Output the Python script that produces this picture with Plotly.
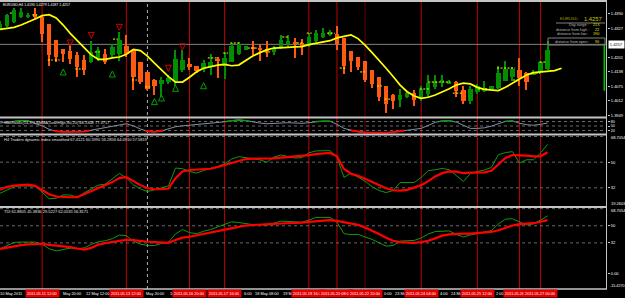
import plotly.graph_objects as go

# ---------------- data ----------------
opens = [1.4327, 1.4337, 1.4356, 1.4378, 1.4382, 1.4392, 1.4380, 1.4346, 1.4279, 1.4240,
         1.4230, 1.4215, 1.4192, 1.4182, 1.4196, 1.4218, 1.4211, 1.4218, 1.4250, 1.4233,
         1.4182, 1.4138, 1.4105, 1.4088, 1.4095, 1.4102, 1.4148, 1.4175, 1.4167, 1.4153,
         1.4160, 1.4196, 1.4167, 1.4182, 1.4218, 1.4235, 1.4247, 1.4244, 1.4240, 1.4225,
         1.4247, 1.4262, 1.4269, 1.4264, 1.4254, 1.4273, 1.4291, 1.4298, 1.4305, 1.4288,
         1.4230, 1.4206, 1.4185, 1.4146, 1.4117, 1.4076, 1.4037, 1.4018, 1.4030, 1.4047,
         1.4022, 1.4044, 1.4073, 1.4095, 1.4088, 1.4095, 1.4061, 1.4015, 1.4051, 1.4056,
         1.4066, 1.4070, 1.4102, 1.4117, 1.4146, 1.4134, 1.4128, 1.4138, 1.4153]
highs = [1.4360, 1.4392, 1.4418, 1.4418, 1.4395, 1.4418, 1.4385, 1.4346, 1.4279, 1.4240,
         1.4262, 1.4225, 1.4211, 1.4276, 1.4247, 1.4240, 1.4262, 1.4312, 1.4298, 1.4235,
         1.4182, 1.4138, 1.4108, 1.4117, 1.4124, 1.4233, 1.4233, 1.4201, 1.4167, 1.4192,
         1.4218, 1.4206, 1.4225, 1.4264, 1.4269, 1.4254, 1.4276, 1.4259, 1.4276, 1.4250,
         1.4302, 1.4298, 1.4288, 1.4283, 1.4308, 1.4320, 1.4331, 1.4322, 1.4341, 1.4288,
         1.4230, 1.4206, 1.4185, 1.4146, 1.4117, 1.4076, 1.4044, 1.4066, 1.4051, 1.4059,
         1.4080, 1.4124, 1.4124, 1.4124, 1.4105, 1.4102, 1.4076, 1.4080, 1.4088, 1.4102,
         1.4080, 1.4167, 1.4186, 1.4160, 1.4201, 1.4138, 1.4146, 1.4189, 1.4273]
lows = [1.4322, 1.4334, 1.4354, 1.4375, 1.4375, 1.4370, 1.4269, 1.4167, 1.4182, 1.4182,
        1.4175, 1.4117, 1.4124, 1.4177, 1.4189, 1.4175, 1.4204, 1.4189, 1.4204, 1.4059,
        1.4088, 1.4059, 1.4037, 1.4030, 1.4088, 1.4080, 1.4138, 1.4146, 1.4134, 1.4138,
        1.4124, 1.4114, 1.4109, 1.4182, 1.4215, 1.4233, 1.4211, 1.4186, 1.4204, 1.4211,
        1.4240, 1.4247, 1.4201, 1.4211, 1.4247, 1.4269, 1.4288, 1.4296, 1.4235, 1.4131,
        1.4138, 1.4146, 1.4095, 1.4070, 1.4012, 1.3960, 1.3979, 1.3986, 1.4027, 1.3989,
        1.4015, 1.4030, 1.4066, 1.4073, 1.4085, 1.4030, 1.4001, 1.4001, 1.4044, 1.4051,
        1.4061, 1.4066, 1.4102, 1.4102, 1.4080, 1.4059, 1.4124, 1.4131, 1.4146]
closes = [1.4349, 1.4385, 1.4407, 1.4399, 1.4389, 1.4378, 1.4305, 1.4211, 1.4204, 1.4218,
          1.4196, 1.4160, 1.4146, 1.4225, 1.4233, 1.4182, 1.4247, 1.4279, 1.4218, 1.4119,
          1.4095, 1.4066, 1.4076, 1.4105, 1.4114, 1.4196, 1.4192, 1.4160, 1.4143, 1.4177,
          1.4182, 1.4189, 1.4201, 1.4254, 1.4262, 1.4250, 1.4238, 1.4235, 1.4230, 1.4244,
          1.4280, 1.4273, 1.4262, 1.4247, 1.4291, 1.4308, 1.4308, 1.4311, 1.4262, 1.4167,
          1.4186, 1.4160, 1.4106, 1.4088, 1.4032, 1.4001, 1.4012, 1.4041, 1.4047, 1.4018,
          1.4066, 1.4090, 1.4102, 1.4105, 1.4102, 1.4056, 1.4015, 1.4066, 1.4080, 1.4070,
          1.4076, 1.4134, 1.4153, 1.4153, 1.4114, 1.4095, 1.4138, 1.4182, 1.4235]
ma_values = [1.4322, 1.4325, 1.4331, 1.4341, 1.4353, 1.4367, 1.4382, 1.4386, 1.4372, 1.4341,
             1.4305, 1.4273, 1.4243, 1.4211, 1.4192, 1.4192, 1.4198, 1.4202, 1.4214, 1.4235,
             1.4230, 1.4206, 1.4175, 1.4146, 1.4117, 1.4093, 1.4093, 1.4114, 1.4138, 1.4153,
             1.4160, 1.4167, 1.4170, 1.4164, 1.4167, 1.4186, 1.4206, 1.4221, 1.4233, 1.4241,
             1.4244, 1.4244, 1.4246, 1.4247, 1.4256, 1.4262, 1.4266, 1.4273, 1.4285, 1.4293,
             1.4298, 1.4282, 1.4254, 1.4221, 1.4189, 1.4153, 1.4117, 1.4080, 1.4051, 1.4032,
             1.4022, 1.4027, 1.4037, 1.4050, 1.4064, 1.4080, 1.4088, 1.4085, 1.4070, 1.4061,
             1.4057, 1.4056, 1.4070, 1.4088, 1.4105, 1.4124, 1.4134, 1.4137, 1.4137, 1.4143,
             1.4153]
# short yellow dotted level marks (start bar, end bar, price)
dash_start_bars = [1.4, 4.6, 6.8, 7.8, 10.7, 13.5, 16.1, 18.8, 20.7, 29.6, 31.8, 32.8, 35.3,
                   37.7, 40.2, 42.3, 43.7, 46.6, 48.4, 51.3, 53.7, 54.8, 59.8, 61.0, 64.5,
                   68.1, 70.8, 73.1, 75.8, 76.9]
dash_end_bars = [1.9, 5.3, 7.5, 8.5, 11.8, 14.2, 16.8, 19.5, 21.4, 30.9, 32.5, 34.2, 36.6,
                 38.7, 41.0, 43.2, 44.4, 47.7, 49.4, 52.0, 54.4, 55.8, 61.3, 64.1, 65.8,
                 69.5, 73.4, 74.1, 76.9, 77.9]
dash_prices = [1.4393, 1.4385, 1.4189, 1.4189, 1.4150, 1.4224, 1.4280, 1.4102, 1.4072, 1.4198,
               1.4219, 1.4263, 1.4241, 1.4224, 1.4289, 1.4263, 1.4306, 1.4306, 1.4154, 1.4137,
               1.4076, 1.4019, 1.4063, 1.4093, 1.4045, 1.4063, 1.4154, 1.4102, 1.4132, 1.4180]
stoch_main = [70, 74, 80, 86, 84, 70, 51, 28, 15, 11,
              11, 13, 13, 22, 30, 38, 49, 59, 65, 51,
              30, 15, 11, 17, 30, 45, 51, 55, 61, 65,
              70, 72, 78, 86, 90, 86, 76, 70, 65, 68,
              70, 72, 70, 68, 72, 80, 83, 82, 61, 34,
              20, 11, 7, 5, 3, 5, 9, 17, 22, 28,
              34, 55, 74, 84, 85, 76, 57, 34, 34, 38,
              49, 63, 81, 84, 68, 59, 55, 61, 70]
dz_green = [28.2, 30.6, 32.7, 33.4, 33.4, 33.2, 29.0, 24.4, 24.7, 27.0,
            27.0, 25.4, 28.5, 31.5, 33.9, 34.6, 38.3, 42.1, 39.0, 34.1,
            31.3, 29.4, 30.6, 32.0, 33.4, 45.9, 45.4, 43.5, 42.3, 44.2,
            45.4, 47.0, 48.9, 52.2, 53.9, 53.2, 52.0, 51.7, 49.9, 53.6,
            55.0, 54.1, 52.9, 53.2, 56.5, 57.9, 58.1, 58.1, 53.6, 39.3,
            42.3, 39.3, 36.7, 32.9, 30.1, 28.7, 30.1, 35.7, 35.7, 35.7,
            39.3, 44.0, 44.7, 45.6, 44.7, 40.4, 36.5, 41.9, 43.5, 44.5,
            46.3, 55.3, 56.7, 57.4, 49.4, 51.7, 51.7, 56.5, 62.5]
dz_red = [30.6, 32.7, 33.6, 34.1, 34.3, 33.4, 30.6, 27.5, 25.9, 25.4,
          25.4, 25.4, 27.5, 30.1, 32.2, 34.1, 36.0, 38.8, 39.5, 36.7,
          33.9, 31.7, 31.0, 31.0, 31.5, 38.8, 43.5, 44.5, 44.7, 45.2,
          45.4, 46.6, 48.0, 49.9, 51.3, 52.2, 52.5, 52.5, 52.5, 52.7,
          53.2, 53.6, 54.1, 54.3, 55.0, 55.7, 56.2, 56.5, 54.1, 45.2,
          41.9, 40.4, 38.3, 36.0, 34.1, 31.7, 30.3, 30.1, 30.6, 32.2,
          33.9, 36.7, 40.0, 42.3, 43.5, 43.3, 42.3, 42.6, 42.8, 42.8,
          44.0, 48.7, 52.9, 55.0, 55.0, 54.6, 54.1, 54.1, 56.9]
tdi_green = [25.8, 29.3, 32.5, 32.9, 32.9, 32.9, 30.7, 25.8, 23.6, 24.7,
             26.5, 25.8, 26.8, 30.4, 33.2, 34.3, 36.4, 40.3, 39.6, 33.9,
             30.7, 29.3, 29.3, 31.4, 32.9, 41.4, 46.0, 42.8, 41.7, 44.2,
             46.0, 48.8, 51.7, 54.2, 53.4, 52.0, 51.3, 51.3, 50.6, 52.7,
             54.9, 54.5, 53.8, 53.8, 55.9, 58.8, 58.8, 58.8, 53.8, 41.7,
             40.7, 41.0, 38.2, 35.7, 32.1, 28.6, 29.3, 33.9, 34.3, 34.6,
             37.1, 41.4, 43.9, 44.6, 44.6, 41.0, 38.2, 40.3, 41.7, 43.5,
             44.9, 52.0, 57.0, 57.4, 54.5, 50.9, 52.0, 55.9, 60.2]
tdi_red = [25.8, 27.2, 28.6, 29.7, 30.4, 30.7, 31.1, 30.0, 29.3, 28.9,
           27.5, 26.1, 25.0, 26.8, 30.0, 31.8, 33.2, 34.6, 35.3, 35.0,
           33.9, 33.2, 32.9, 32.5, 32.1, 35.0, 37.5, 38.5, 39.9, 41.0,
           42.4, 43.9, 45.3, 46.7, 48.8, 50.3, 50.9, 51.3, 51.7, 52.0,
           52.4, 52.6, 53.1, 53.4, 54.2, 54.9, 55.2, 55.9, 55.2, 53.8,
           52.4, 50.9, 48.1, 44.9, 41.4, 37.5, 34.3, 32.9, 32.5, 32.1,
           32.9, 34.3, 36.8, 39.6, 41.0, 41.7, 41.7, 41.7, 42.1, 42.8,
           43.5, 45.3, 48.1, 50.3, 51.7, 52.4, 52.7, 54.2, 55.9]
sell_arrow_bars = [10, 13, 17, 24, 26]
sell_arrow_prices = [1.4250, 1.4283, 1.4318, 1.4140, 1.4233]
buy_arrow_bars = [9, 16, 22, 23, 25, 29]
buy_arrow_prices = [1.4150, 1.4141, 1.4021, 1.4037, 1.4079, 1.4090]
event_bars = [6, 18, 27, 32, 44, 48, 52, 60, 68, 74, 77]
event_labels = ["2011.05.11 12:00", "2011.05.13 12:00", "2011.05.16 20:00", "2011.05.17 16:00",
                "2011.05.19 16:00", "2011.05.20 08:00", "2011.05.22 20:00", "2011.05.24 04:00",
                "2011.05.25 12:00", "2011.05.26 12:00", "2011.05.27 00:00"]
event_colors = ["#c00000"] * 6 + ["#6a0000"] + ["#c00000"] * 4
separator_bar = 21
# visible parts of the time-scale labels (the rest is hidden under the red line labels)
time_label_bars = [0, 8, 12, 20, 24, 32, 36, 40, 52, 56, 60, 64, 68]
time_label_texts = ["10 May 2011", "May 20:00", "12 May 12:00", "May 20:00", "16", "6:00",
                    "18 May 08:00", "19 Ma", "0:00", "23 Ma", "4:00", "24 Ma", "2:00"]
time_label_shift = [-2, 5, 0, 4, 0, 17, 0, 0, 17, 0, 17, 0, 17]
price_ticks = [1.4390, 1.4327, 1.4201, 1.4138, 1.4075, 1.4012, 1.3949]
current_price = 1.4257
day_bar_low = 1.4055
stoch_levels = [80, 50, 20]
tdi_levels = [68, 50, 32]
dz_ticks = [50, 32]
dz_max, dz_min = 68.7054, 19.2603
tdi_ticks = [50, 32, 0]
tdi_ticktext = ["50", "32", "0.00"]
tdi_max, tdi_min = 68.7054, -15.4270
header_text = "EURUSD,H4 1.4190 1.4279 1.4187 1.4257"
stoch_text = "Stochastic(14,3,3,SMMA,Low/High,80,20) 68.5308 77.3717"
dz_text = "H4 Traders dynamic index smoothed 67.4121 60.5990 53.2856 64.0910 57.5819"
tdi_text = "TDI 61.8805 45.3836 29.5227 62.0535 56.8171"
info_rows = ["Day range :", "distance from high :", "distance from low :", "distance from open :"]
info_vals = ["213", "22", "190", "90"]

# ---------------- layout helpers ----------------
W, H = 625, 298
PLOT_R = 607
BAR_PX = 7.02
FONT = "Liberation Sans, Arial, sans-serif"
GREEN = "#008f00"
ORANGE = "#ff5a12"
AX_FS = 4.0
LBL_FS = 3.9


def px(x):
    return x / W


def py(y):
    return 1 - y / H


def clip_runs(xs, ys, level, above):
    def inside(v):
        return v >= level if above else v <= level
    rx, ry = [], []
    prev_in = False
    for i in range(len(ys)):
        cur_in = inside(ys[i])
        if i > 0 and cur_in != prev_in:
            x0, y0, x1, y1 = xs[i - 1], ys[i - 1], xs[i], ys[i]
            t = (level - y0) / (y1 - y0)
            rx.append(x0 + t * (x1 - x0))
            ry.append(level)
            if not cur_in:
                rx.append(None)
                ry.append(None)
        if cur_in:
            rx.append(xs[i])
            ry.append(ys[i])
        prev_in = cur_in
    return rx, ry


fig = go.Figure()
bars = list(range(len(opens)))
cols = [GREEN if c >= o else ORANGE for o, c in zip(opens, closes)]

# yellow dotted marks (behind candles)
dx, dy = [], []
for a, b, p in zip(dash_start_bars, dash_end_bars, dash_prices):
    dx += [a, b, None]
    dy += [p, p, None]
fig.add_trace(go.Scatter(x=dx, y=dy, mode="lines", yaxis="y", connectgaps=False,
                         line=dict(color="#ffff00", width=1, dash="2px,1.5px"), hoverinfo="skip"))
# wicks
fig.add_trace(go.Bar(x=bars, base=lows, y=[h - l for h, l in zip(highs, lows)], width=0.16,
                     marker=dict(color=cols, line=dict(width=0)), yaxis="y", hoverinfo="skip"))
# bodies
fig.add_trace(go.Bar(x=bars, base=[min(o, c) for o, c in zip(opens, closes)],
                     y=[max(abs(c - o), 0.00025) for o, c in zip(opens, closes)], width=0.62,
                     marker=dict(color=cols, line=dict(width=0)), yaxis="y", hoverinfo="skip"))
# moving average
fig.add_trace(go.Scatter(x=list(range(len(ma_values))), y=ma_values, mode="lines",
                         line=dict(color="#ffff00", width=1.7), yaxis="y", hoverinfo="skip"))
# signal arrows
fig.add_trace(go.Scatter(x=sell_arrow_bars, y=sell_arrow_prices, mode="markers", yaxis="y",
                         marker=dict(symbol="arrow-down-open", size=6, color="#d00000",
                                     line=dict(width=1, color="#d00000")), hoverinfo="skip"))
fig.add_trace(go.Scatter(x=buy_arrow_bars, y=buy_arrow_prices, mode="markers", yaxis="y",
                         marker=dict(symbol="arrow-up-open", size=6, color="#00a000",
                                     line=dict(width=1, color="#00a000")), hoverinfo="skip"))

# stochastic
fig.add_trace(go.Scatter(x=bars, y=stoch_main, mode="lines", yaxis="y2",
                         line=dict(color="#8090a4", width=1), hoverinfo="skip"))
gx, gy = clip_runs(bars, stoch_main, 80, True)
fig.add_trace(go.Scatter(x=gx, y=gy, mode="lines", yaxis="y2", connectgaps=False,
                         line=dict(color="#00a000", width=1.3), hoverinfo="skip"))
rx, ry = clip_runs(bars, stoch_main, 20, False)
fig.add_trace(go.Scatter(x=rx, y=ry, mode="lines", yaxis="y2", connectgaps=False,
                         line=dict(color="#ff0000", width=1.8), hoverinfo="skip"))

# dynamic zone
fig.add_trace(go.Scatter(x=bars, y=dz_green, mode="lines", yaxis="y3",
                         line=dict(color="#109a10", width=1), hoverinfo="skip"))
fig.add_trace(go.Scatter(x=bars, y=dz_red, mode="lines", yaxis="y3",
                         line=dict(color="#ff0000", width=2.2), hoverinfo="skip"))
# TDI
fig.add_trace(go.Scatter(x=bars, y=tdi_green, mode="lines", yaxis="y4",
                         line=dict(color="#109a10", width=1), hoverinfo="skip"))
fig.add_trace(go.Scatter(x=bars, y=tdi_red, mode="lines", yaxis="y4",
                         line=dict(color="#ff0000", width=2.2), hoverinfo="skip"))

shapes = []
for b, c in zip(event_bars, event_colors):
    shapes.append(dict(type="line", xref="x", yref="paper", x0=b, x1=b, y0=py(289), y1=1,
                       line=dict(color=c, width=1), layer="below"))
shapes.append(dict(type="line", xref="x", yref="paper", x0=separator_bar, x1=separator_bar,
                   y0=py(289), y1=1, line=dict(color="#b0b0b0", width=1, dash="dot"), layer="below"))
shapes.append(dict(type="line", xref="paper", yref="y", x0=0, x1=px(PLOT_R), y0=current_price,
                   y1=current_price, line=dict(color="#808080", width=1), layer="below"))
for lv in stoch_levels:
    shapes.append(dict(type="line", xref="paper", yref="y2", x0=0, x1=px(PLOT_R), y0=lv, y1=lv,
                       line=dict(color="#6a6a6a", width=1, dash="dot"), layer="below"))
for lv in tdi_levels:
    for ax in ("y3", "y4"):
        shapes.append(dict(type="line", xref="paper", yref=ax, x0=0, x1=px(PLOT_R), y0=lv, y1=lv,
                           line=dict(color="#6a6a6a", width=1, dash="dot"), layer="below"))
for yy, wd in [(1, 2), (117.5, 2), (134.5, 2), (207, 2), (289, 1.5)]:
    shapes.append(dict(type="line", xref="paper", yref="paper", x0=0, x1=px(PLOT_R), y0=py(yy),
                       y1=py(yy), line=dict(color="#c4c4c4", width=wd), layer="above"))
shapes.append(dict(type="line", xref="paper", yref="paper", x0=px(606.5), x1=px(606.5), y0=py(289),
                   y1=1, line=dict(color="#c4c4c4", width=1), layer="above"))
shapes.append(dict(type="rect", xref="paper", yref="y", x0=px(603.5), x1=px(605.2), y0=day_bar_low,
                   y1=current_price, fillcolor="#00c000", line=dict(width=0), layer="above"))
shapes.append(dict(type="line", xref="paper", yref="paper", x0=px(556), x1=px(605), y0=py(23),
                   y1=py(23), line=dict(color="#808080", width=1)))
shapes.append(dict(type="rect", xref="paper", yref="paper", x0=px(548), x1=px(605), y0=py(45),
                   y1=py(38), line=dict(color="#808080", width=1)))

ann = []


def text(x, y, s, color="#ffffff", size=4.0, xanchor="left", **kw):
    d = dict(x=px(x), y=py(y), xref="paper", yref="paper", text=s, showarrow=False,
             xanchor=xanchor, yanchor="middle", font=dict(family=FONT, size=size, color=color))
    d.update(kw)
    ann.append(d)


text(1, 4.5, header_text, size=3.5)
text(2, 122.3, stoch_text, color="#e0e0e0", size=4.0)
text(2, 139.5, dz_text, color="#e0e0e0", size=4.0)
text(2, 211.5, tdi_text, color="#e0e0e0", size=4.0)

# info panel
text(558, 18.5, "EURUSD", color="#9c9c00", size=4.2)
text(604, 18.5, f"{current_price:.4f}", color="#c8c800", size=5.8, xanchor="right")
for i, (lab, val) in enumerate(zip(info_rows, info_vals)):
    yy = [25.5, 30, 34.5, 41.5][i]
    text(591, yy, lab, color="#b8b8b8", size=3.8, xanchor="right")
    text(601, yy, val, color="#e6e600", size=3.8, xanchor="right")

# right-axis edge labels of the indicator windows
text(609, 137.5, f"{dz_max:.4f}", size=AX_FS)
text(609, 203.5, f"{dz_min:.4f}", size=AX_FS)
text(609, 210.8, f"{tdi_max:.4f}", size=AX_FS)
text(607.5, 286.3, f"{tdi_min:.4f}", size=3.7)

# time axis labels (visible fragments), then the red vertical-line labels on top
for b, s, sh in zip(time_label_bars, time_label_texts, time_label_shift):
    ann.append(dict(x=b, y=py(293.3), xref="x", yref="paper", text=s, showarrow=False,
                    xanchor="left", yanchor="middle", xshift=sh,
                    font=dict(family=FONT, size=LBL_FS, color="#ffffff")))
half_box = 16.5  # px, half width of a red time label
for k, (b, s) in enumerate(zip(event_bars, event_labels)):
    nxt = event_bars[k + 1] if k + 1 < len(event_bars) else None
    if nxt is not None and (nxt - b) * BAR_PX < 2 * half_box - 8:
        # label mostly covered by the next one: only its date part shows
        ann.append(dict(x=b, y=py(293.3), xref="x", yref="paper", text=s.split(" ")[0],
                        showarrow=False, xanchor="left", yanchor="middle", xshift=-half_box,
                        bgcolor="#e00000", borderpad=1,
                        font=dict(family=FONT, size=LBL_FS, color="#ffffff")))
    else:
        ann.append(dict(x=b, y=py(293.3), xref="x", yref="paper", text=s, showarrow=False,
                        xanchor="center", yanchor="middle", bgcolor="#e00000", borderpad=1,
                        font=dict(family=FONT, size=LBL_FS, color="#ffffff")))
# current price box
ann.append(dict(x=px(608), y=current_price, xref="paper", yref="y", text=f"{current_price:.4f}",
                showarrow=False, xanchor="left", yanchor="middle", bgcolor="#ffffff", borderpad=0.8,
                font=dict(family=FONT, size=AX_FS, color="#000000")))

axis_common = dict(side="right", anchor="x", showgrid=False, zeroline=False, showline=False,
                   ticks="outside", ticklen=2, tickcolor="#c4c4c4", fixedrange=True)
tf = dict(family=FONT, size=AX_FS, color="#ffffff")

fig.update_layout(
    width=W, height=H, margin=dict(l=0, r=0, t=0, b=0),
    paper_bgcolor="#000000", plot_bgcolor="#000000", showlegend=False,
    barmode="overlay", bargap=0,
    xaxis=dict(domain=[0, px(PLOT_R)], range=[0, PLOT_R / BAR_PX], visible=False, fixedrange=True),
    yaxis=dict(domain=[py(116.5), py(1.5)], range=[1.39432, 1.44435], tickvals=price_ticks,
               ticktext=[f"{v:.4f}" for v in price_ticks], tickfont=tf, **axis_common),
    yaxis2=dict(domain=[py(133.5), py(118.5)], range=[0, 100], tickvals=stoch_levels,
                ticktext=[str(v) for v in stoch_levels],
                tickfont=dict(family=FONT, size=3.6, color="#ffffff"), **axis_common),
    yaxis3=dict(domain=[py(206), py(135.5)], range=[dz_min, dz_max], tickvals=dz_ticks,
                ticktext=[str(v) for v in dz_ticks], tickfont=tf, **axis_common),
    yaxis4=dict(domain=[py(288), py(208)], range=[tdi_min, tdi_max], tickvals=tdi_ticks,
                ticktext=tdi_ticktext, tickfont=tf, **axis_common),
    shapes=shapes, annotations=ann,
)

fig.write_html("out.html")
